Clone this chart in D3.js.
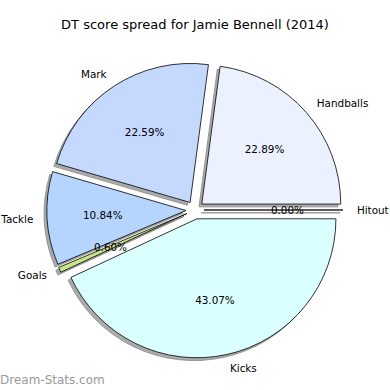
<!DOCTYPE html>
<html>
<head>
<meta charset="utf-8">
<script src="https://cdn.jsdelivr.net/npm/d3@7"></script>
<style>
  body { margin: 0; background: #fff; }
  text { font-family: "DejaVu Sans", sans-serif; }
</style>
</head>
<body>
<div id="chart"></div>
<script>
const categories = ['Handballs', 'Mark', 'Tackle', 'Goals', 'Kicks', 'Hitout'];
const shares = [22.89, 22.59, 10.84, 0.60, 43.07, 0.00];
const colors = ['#ebf1ff', '#c5d9ff', '#b5d5ff', '#c8e68a', '#daffff', '#ffffff'];

const width = 390, height = 390;
const cx = 195, cy = 210, radius = 139, explode = 9;

const svg = d3.select('#chart').append('svg')
  .attr('width', width)
  .attr('height', height);

svg.append('text')
  .attr('x', 195)
  .attr('y', 29)
  .attr('text-anchor', 'middle')
  .style('font-size', '13px')
  .text('DT score spread for Jamie Bennell (2014)');

// counter-clockwise from 3 o'clock, like the original
const pie = d3.pie()
  .sort(null)
  .startAngle(Math.PI / 2)
  .endAngle(Math.PI / 2 - 2 * Math.PI);

const arcs = pie(shares).map((d, i) => {
  const mid = (d.startAngle + d.endAngle) / 2;
  return Object.assign(d, {
    name: categories[i],
    color: colors[i],
    dx: Math.sin(mid),
    dy: -Math.cos(mid)
  });
});

const arc = d3.arc().innerRadius(0).outerRadius(radius);

const g = svg.append('g').attr('transform', `translate(${cx},${cy})`);

// shadows first
g.selectAll('path.shadow')
  .data(arcs)
  .enter()
  .append('path')
  .attr('class', 'shadow')
  .attr('d', arc)
  .attr('transform', d => `translate(${d.dx * explode - 2.8},${d.dy * explode + 2.8})`)
  .attr('fill', '#888')
  .attr('fill-opacity', 0.7)
  .attr('stroke', '#888')
  .attr('stroke-width', 0.8);

g.selectAll('path.wedge')
  .data(arcs)
  .enter()
  .append('path')
  .attr('class', 'wedge')
  .attr('d', arc)
  .attr('transform', d => `translate(${d.dx * explode},${d.dy * explode})`)
  .attr('fill', d => d.color)
  .attr('stroke', '#000')
  .attr('stroke-width', 0.8)
  .attr('stroke-linejoin', 'round');

const labelR = radius * 1.1 + explode;
g.selectAll('text.label')
  .data(arcs)
  .enter()
  .append('text')
  .attr('class', 'label')
  .attr('x', d => d.dx * labelR)
  .attr('y', d => d.dy * labelR)
  .attr('dy', '0.35em')
  .attr('text-anchor', d => d.dx > 0 ? 'start' : 'end')
  .style('font-size', '10.4px')
  .text(d => d.name);

const pctR = radius * 0.6 + explode;
g.selectAll('text.pct')
  .data(arcs)
  .enter()
  .append('text')
  .attr('class', 'pct')
  .attr('x', d => d.dx * pctR)
  .attr('y', d => d.dy * pctR)
  .attr('dy', '0.35em')
  .attr('text-anchor', 'middle')
  .style('font-size', '10.4px')
  .text(d => d.value.toFixed(2) + '%');

svg.append('text')
  .attr('x', 0)
  .attr('y', 384)
  .attr('fill', '#999')
  .style('font-size', '12px')
  .text('Dream-Stats.com');
</script>
</body>
</html>
